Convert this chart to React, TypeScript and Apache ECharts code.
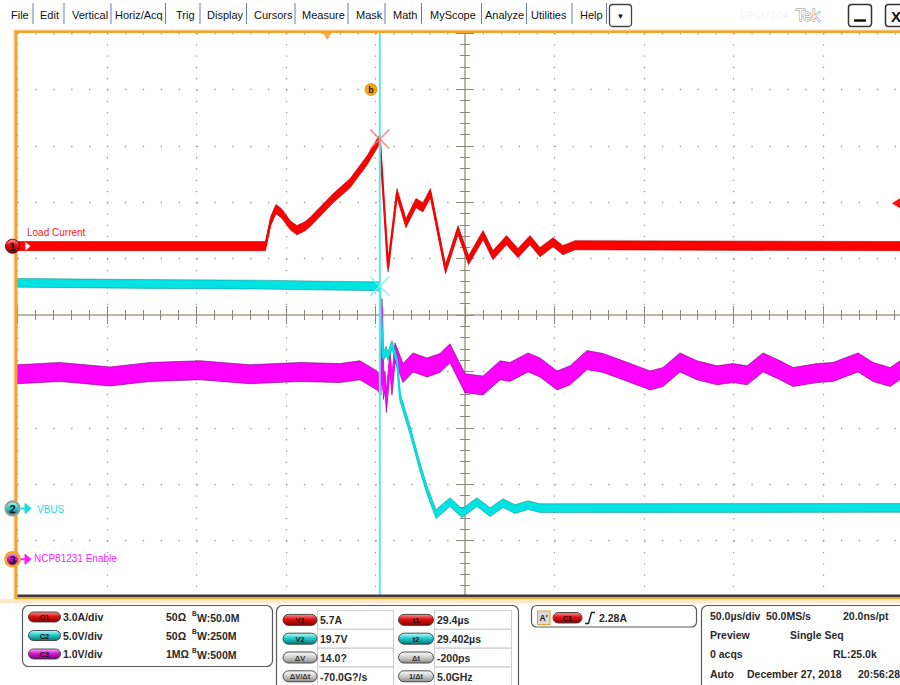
import React, { useEffect, useRef } from "react";
import * as echarts from "echarts";

// Timebase: 50 µs/div, trigger at t = 0 (µs)
const TIME_MIN = -173;
const TIME_MAX = 327;

// Vertical setup per channel: units per division and ground offset (divisions from centre)
const C1_PER_DIV = 3.0;
const C1_OFFSET = 1.22;
const C2_PER_DIV = 5.0;
const C2_OFFSET = -3.43;
const C3_PER_DIV = 1.0;
const C3_OFFSET = -4.33;

// Cursors and trigger
const CURSOR_T1 = 29.4;
const CURSOR_T2 = 29.402;
const CURSOR_V1 = 5.7;
const CURSOR_V2 = 19.7;
const TRIGGER_T = 0;
const TRIGGER_LEVEL = 2.28;

// C1 – Load Current [µs, A]
const loadCurrent = [
  [-173, 0], [-34.5, 0], [-31.5, 1.35], [-28.6, 1.97], [-25.5, 1.75], [-20.5, 1.1],
  [-16.9, 0.85], [-12.5, 1.05], [-9.6, 1.28], [3.3, 2.55], [12.8, 3.35], [22.3, 4.57],
  [29.4, 5.7], [34.0, -1.12], [39.0, 2.82], [44.0, 1.22], [49.6, 2.29], [53.5, 2.07],
  [57.7, 2.82], [66.1, -1.22], [73.1, 0.85], [79.0, -0.74], [87.1, 0.59], [92.6, -0.48],
  [100.2, 0.32], [106.6, -0.37], [113.3, 0.32], [118.9, -0.32], [126.2, 0.21],
  [131.7, -0.21], [138.5, 0.05], [327, 0],
];

// C2 – VBUS [µs, V]
const vbus = [
  [-173, 20.0], [-100, 19.9], [-40, 19.85], [0, 19.75], [29.4, 19.7], [31.2, 13.4],
  [32.9, 14.0], [34.0, 13.5], [36.2, 14.5], [39.0, 13.1], [40.7, 9.87], [46.3, 6.94],
  [51.9, 3.66], [55.8, 1.62], [60.8, -0.5], [68.6, 0.56], [75.3, -0.42], [83.7, 0.56],
  [91.0, -0.33], [98.2, 0.47], [104.9, -0.06], [112.2, 0.29], [118.9, 0.03], [327, 0.05],
];

// C3 – NCP81231 Enable [µs, V]
const enableSignal = [
  [-173, 3.28], [-149.3, 3.32], [-121.3, 3.24], [-99, 3.32], [-71, 3.35], [-43.1, 3.28],
  [-15.2, 3.32], [7.2, 3.3], [18.3, 3.35], [27.8, 3.17], [30.1, 3.08], [30.6, 4.45],
  [31.4, 3.0], [32.3, 3.17], [33.1, 2.77], [35.1, 3.53], [36.2, 3.08], [37.9, 3.67],
  [42.4, 3.3], [47.9, 3.49], [55.8, 3.4], [63.0, 3.48], [68.6, 3.65], [77.0, 3.12],
  [87.1, 3.08], [96.6, 3.35], [102.1, 3.32], [112.2, 3.49], [118.9, 3.4], [128.4, 3.17],
  [135.7, 3.26], [145.2, 3.53], [154.1, 3.48], [165.3, 3.35], [180.4, 3.17], [187.6, 3.23],
  [197.1, 3.49], [206.6, 3.35], [217.8, 3.26], [226.7, 3.3], [234.6, 3.26], [243.5, 3.49],
  [253.0, 3.35], [260.3, 3.23], [273.6, 3.3], [282.6, 3.32], [296.6, 3.49], [305.0, 3.32],
  [314.5, 3.23], [320.1, 3.35], [327, 3.32],
];

// Readout texts
const CHANNEL_SETTINGS = [
  { badge: "C1", kind: "red", scale: "3.0A/div", term: "50Ω", bw: "W:50.0M" },
  { badge: "C2", kind: "cyan", scale: "5.0V/div", term: "50Ω", bw: "W:250M" },
  { badge: "C3", kind: "magenta", scale: "1.0V/div", term: "1MΩ", bw: "W:500M" },
];
const CURSOR_LEFT = [
  { badge: "V1", kind: "red", value: `${CURSOR_V1.toFixed(1)}A` },
  { badge: "V2", kind: "cyan", value: `${CURSOR_V2.toFixed(1)}V` },
  { badge: "ΔV", kind: "gray", value: `${(CURSOR_V2 - CURSOR_V1).toFixed(1)}?` },
  { badge: "ΔV/Δt", kind: "gray", value: "-70.0G?/s" },
];
const CURSOR_RIGHT = [
  { badge: "t1", kind: "red", value: `${CURSOR_T1}µs` },
  { badge: "t2", kind: "cyan", value: `${CURSOR_T2}µs` },
  { badge: "Δt", kind: "gray", value: "-200ps" },
  { badge: "1/Δt", kind: "gray", value: "5.0GHz" },
];
const MENU_ITEMS = ["File", "Edit", "Vertical", "Horiz/Acq", "Trig", "Display", "Cursors", "Measure", "Mask", "Math", "MyScope", "Analyze", "Utilities", "Help"];
const MENU_X = [11, 40, 72, 115, 176, 207, 254, 302, 356, 393, 430, 485, 531, 580];
const MENU_SEP_X = [33, 64, 111, 165.5, 200, 246.5, 295, 348, 385, 421.5, 481.5, 526.5, 572, 606.5];

const SANS = '"Liberation Sans", Arial, sans-serif';
const MENU_FONT = `11px ${SANS}`;
const PANEL_FONT = `bold 10.5px ${SANS}`;
const GRID_TICK = "#8e887c";
const GRID_DOT = "#a39d90";
const GRID_CENTER = "#b9b1a2";
const ORANGE = "#f6a42c";

const TRACE_STYLE = {
  c1: { fill: "#ff0000", edge: "rgba(150,0,0,0.55)", half: 4.6 },
  c2: { fill: "#00e3e3", edge: "rgba(0,120,120,0.45)", half: 4.4 },
  c3: { fill: "#ff00ff", edge: "rgba(120,0,120,0.6)", half: 9.5 },
};

const PILL_FILLS: Record<string, string[]> = {
  red: ["#ff9090", "#e01010", "#860000"],
  cyan: ["#c0ffff", "#24cdcd", "#087676"],
  magenta: ["#ffa8ff", "#d21ad2", "#760076"],
  gray: ["#fbfbfb", "#d2d2d2", "#8c8c8c"],
};

function channelRange(perDiv: number, offset: number) {
  return { min: (-5 - offset) * perDiv, max: (5 - offset) * perDiv };
}

function traceSeries(name: string, points: number[][], yAxisIndex: number, st: any, z: number) {
  return {
    type: "custom",
    name,
    xAxisIndex: 4,
    yAxisIndex,
    z,
    silent: true,
    data: [points[0]],
    renderItem: (_params: any, api: any) => {
      const pts = points.map((p) => api.coord(p));
      const upper = pts.map((p: number[]) => [p[0], p[1] - st.half]);
      const lower = pts.map((p: number[]) => [p[0], p[1] + st.half]).reverse();
      return {
        type: "group",
        children: [
          { type: "polygon", shape: { points: upper.concat(lower) }, style: { fill: st.fill, stroke: st.edge, lineWidth: 1 } },
          { type: "polyline", shape: { points: pts }, style: { fill: null, stroke: st.fill, lineWidth: 2.2, lineJoin: "round" } },
        ],
      };
    },
  };
}

const X_SYMBOL = "path://M0,0.9L0.9,0L8,7.1L15.1,0L16,0.9L8.9,8L16,15.1L15.1,16L8,8.9L0.9,16L0,15.1L7.1,8Z";

function buildOption() {
  const divAxis = {
    type: "value",
    min: -5,
    max: 5,
    interval: 1,
    axisLabel: { show: false },
    splitLine: { show: false },
    axisLine: { show: false },
    axisTick: { show: false },
    minorTick: { show: false },
  };
  const edgeTicks = {
    axisTick: { show: true, inside: true, length: 9, lineStyle: { color: GRID_TICK, width: 1 } },
    minorTick: { show: true, splitNumber: 5, length: 5, lineStyle: { color: GRID_TICK, width: 1 } },
  };
  const centreLine = (inside: boolean) => ({
    axisLine: { show: true, onZero: true, onZeroAxisIndex: 0, lineStyle: { color: GRID_CENTER, width: 1.5 } },
    axisTick: { show: true, inside, length: 4, lineStyle: { color: GRID_TICK, width: 1 } },
    minorTick: { show: true, splitNumber: 5, length: 3, lineStyle: { color: GRID_TICK, width: 1 } },
  });
  const c1 = channelRange(C1_PER_DIV, C1_OFFSET);
  const c2 = channelRange(C2_PER_DIV, C2_OFFSET);
  const c3 = channelRange(C3_PER_DIV, C3_OFFSET);

  return {
    animation: false,
    backgroundColor: "#ffffff",
    grid: { left: 17.5, top: 33, width: 895, height: 564 },
    xAxis: [
      { ...divAxis, position: "top", ...edgeTicks, splitLine: { show: true, lineStyle: { color: GRID_DOT, width: 1.3, type: [1.3, 9.98] } } },
      { ...divAxis, position: "bottom", ...edgeTicks },
      { ...divAxis, position: "bottom", ...centreLine(true) },
      { ...divAxis, position: "bottom", ...centreLine(false) },
      { type: "value", min: TIME_MIN, max: TIME_MAX, show: false },
    ],
    yAxis: [
      { ...divAxis, position: "left", ...edgeTicks, splitLine: { show: true, lineStyle: { color: GRID_DOT, width: 1.3, type: [1.3, 16.6] } } },
      { ...divAxis, position: "right", ...edgeTicks },
      { ...divAxis, position: "left", ...centreLine(true) },
      { ...divAxis, position: "left", ...centreLine(false) },
      { type: "value", ...c1, show: false },
      { type: "value", ...c2, show: false },
      { type: "value", ...c3, show: false },
    ],
    series: [
      traceSeries("NCP81231 Enable", enableSignal, 6, TRACE_STYLE.c3, 3),
      traceSeries("VBUS", vbus, 5, TRACE_STYLE.c2, 4),
      traceSeries("Load Current", loadCurrent, 4, TRACE_STYLE.c1, 5),
      {
        type: "custom",
        name: "cursor",
        xAxisIndex: 4,
        yAxisIndex: 4,
        z: 6,
        silent: true,
        data: [[CURSOR_T1, 0]],
        renderItem: (params: any, api: any) => {
          const x = api.coord([api.value(0), 0])[0];
          const cs = params.coordSys;
          return {
            type: "line",
            shape: { x1: x, y1: cs.y, x2: x, y2: cs.y + cs.height },
            style: { stroke: "#5fe3ee", lineWidth: 2 },
          };
        },
      },
      {
        type: "scatter",
        xAxisIndex: 4,
        yAxisIndex: 4,
        z: 7,
        silent: true,
        clip: false,
        symbol: X_SYMBOL,
        symbolSize: 20,
        itemStyle: { color: "#ff7070" },
        data: [[CURSOR_T1, CURSOR_V1]],
      },
      {
        type: "scatter",
        xAxisIndex: 4,
        yAxisIndex: 5,
        z: 7,
        silent: true,
        clip: false,
        symbol: X_SYMBOL,
        symbolSize: 20,
        itemStyle: { color: "#7cf0f0" },
        data: [[CURSOR_T2, CURSOR_V2]],
      },
      {
        type: "scatter",
        xAxisIndex: 4,
        yAxisIndex: 4,
        z: 8,
        silent: true,
        clip: false,
        symbol: "triangle",
        symbolRotate: 180,
        symbolSize: [10, 8],
        symbolOffset: [0, 3],
        itemStyle: { color: "#f39a1c" },
        data: [[TRIGGER_T, c1.max]],
      },
    ],
  };
}

function gradient(kind: string) {
  const [a, b, c] = PILL_FILLS[kind];
  return new echarts.graphic.LinearGradient(0, 0, 0, 1, [
    { offset: 0, color: a },
    { offset: 0.45, color: b },
    { offset: 1, color: c },
  ]);
}

function txt(x: number, y: number, text: string, font = PANEL_FONT, fill = "#2a2a2a", align = "left", z = 6) {
  return { type: "text", x, y, z, silent: true, style: { text, font, fill, align, verticalAlign: "middle" } };
}

function pill(x: number, y: number, w: number, h: number, kind: string, label: string) {
  return [
    { type: "rect", z: 5, silent: true, shape: { x, y, width: w, height: h, r: h / 2 }, style: { fill: gradient(kind), stroke: "#3c3c3c", lineWidth: 0.9 } },
    txt(x + w / 2, y + h / 2 + 0.5, label, `bold 7.5px ${SANS}`, kind === "gray" ? "#333" : "#2a0808", "center", 6),
  ];
}

function groundMarker(cx: number, cy: number, digit: string, kind: string, ring: string, ringWidth: number, arrow: string, arrowHollow: boolean) {
  const head = [[25, cy - 5], [31, cy], [25, cy + 5]];
  return [
    {
      type: "circle", z: 20, silent: true,
      shape: { cx, cy, r: 7 },
      style: { fill: gradient(kind), stroke: ring, lineWidth: ringWidth },
    },
    txt(cx, cy + 0.5, digit, `bold 11px ${SANS}`, "#111", "center", 21),
    { type: "line", z: 20, silent: true, shape: { x1: 20.5, y1: cy, x2: 26, y2: cy }, style: { stroke: arrow, lineWidth: arrowHollow ? 1.2 : 2 } },
    { type: "polygon", z: 20, silent: true, shape: { points: head }, style: { fill: arrowHollow ? "#ffffff" : arrow, stroke: arrow, lineWidth: 1 } },
  ];
}

function buildGraphics(chart: any) {
  const g: any[] = [];

  // Menu bar
  MENU_ITEMS.forEach((item, i) => g.push(txt(MENU_X[i], 15, item, MENU_FONT, "#111", "left", 30)));
  MENU_SEP_X.forEach((x) =>
    g.push({ type: "line", z: 30, silent: true, shape: { x1: x, y1: 3, x2: x, y2: 24 }, style: { stroke: "#6b7ea6", lineWidth: 1 } })
  );
  g.push({ type: "rect", z: 30, silent: true, shape: { x: 609.5, y: 4.5, width: 22, height: 22, r: 3 }, style: { fill: "#fff", stroke: "#444", lineWidth: 1.3 } });
  g.push(txt(620.5, 16, "▼", `8px ${SANS}`, "#111", "center", 31));
  g.push(txt(740, 15, "DPO7104", `11px ${SANS}`, "#f4f4f4", "left", 30));
  g.push({
    type: "text", x: 796, y: 16, z: 30, silent: true,
    style: { text: "Tek", font: `15px "DejaVu Sans", sans-serif`, fill: "#ffffff", stroke: "#8c8c8c", lineWidth: 1, verticalAlign: "middle" },
  });
  g.push({ type: "rect", z: 30, silent: true, shape: { x: 848.5, y: 4.5, width: 23, height: 22, r: 3 }, style: { fill: "#fff", stroke: "#333", lineWidth: 1.5 } });
  g.push({ type: "line", z: 31, silent: true, shape: { x1: 854, y1: 20.5, x2: 866, y2: 20.5 }, style: { stroke: "#111", lineWidth: 2.5 } });
  g.push({ type: "rect", z: 30, silent: true, shape: { x: 885.5, y: 4.5, width: 23, height: 22, r: 3 }, style: { fill: "#fff", stroke: "#333", lineWidth: 1.5 } });
  g.push(txt(896, 16, "X", `bold 15px ${SANS}`, "#111", "center", 31));

  // Graticule frame
  g.push({ type: "rect", z: 12, silent: true, shape: { x: 13.5, y: 29.5, width: 1.2, height: 570 }, style: { fill: "#fbd495" } });
  g.push({ type: "rect", z: 12, silent: true, shape: { x: 14.5, y: 30.5, width: 3, height: 568 }, style: { fill: ORANGE } });
  g.push({ type: "rect", z: 12, silent: true, shape: { x: 13.5, y: 29.5, width: 900, height: 1.2 }, style: { fill: "#fbd495" } });
  g.push({ type: "rect", z: 12, silent: true, shape: { x: 14.5, y: 30.5, width: 900, height: 2.6 }, style: { fill: ORANGE } });
  g.push({ type: "rect", z: 12, silent: true, shape: { x: 17.5, y: 594.5, width: 900, height: 2.5 }, style: { fill: "#3a3a3a" } });
  g.push({ type: "rect", z: 12, silent: true, shape: { x: 14.5, y: 597, width: 900, height: 2.2 }, style: { fill: ORANGE } });
  g.push({ type: "rect", z: 12, silent: true, shape: { x: 0, y: 599.2, width: 920, height: 4 }, style: { fill: "#fde8c8" } });

  // Ground markers and channel labels
  const p1 = chart.convertToPixel({ xAxisIndex: 4, yAxisIndex: 4 }, [TIME_MIN, 0]);
  const p2 = chart.convertToPixel({ xAxisIndex: 4, yAxisIndex: 5 }, [TIME_MIN, 0]);
  const p3 = chart.convertToPixel({ xAxisIndex: 4, yAxisIndex: 6 }, [TIME_MIN, 0]);
  g.push(...groundMarker(12.5, p1[1], "1", "red", "#7a0000", 1, "#ff2020", true));
  g.push(...groundMarker(12.5, p2[1], "2", "cyan", "#9c9c9c", 2, "#18dede", false));
  g.push(...groundMarker(12.5, p3[1], "3", "magenta", "#f5a623", 2.5, "#ff1aff", false));
  g.push(txt(27, p1[1] - 14, "Load Current", `10px ${SANS}`, "#ff1a1a", "left", 20));
  g.push(txt(37, p2[1] + 1.5, "VBUS", `10px ${SANS}`, "#1fd8e0", "left", 20));
  g.push(txt(34, p3[1] - 0.5, "NCP81231 Enable", `10px ${SANS}`, "#ff22ff", "left", 20));

  // Trigger level marker (C1) at the right edge
  const pt = chart.convertToPixel({ xAxisIndex: 4, yAxisIndex: 4 }, [TIME_MAX, TRIGGER_LEVEL]);
  g.push({ type: "polygon", z: 20, silent: true, shape: { points: [[892, pt[1]], [900, pt[1] - 5], [900, pt[1] + 5]] }, style: { fill: "#ff1010" } });

  // Cursor "b" tag
  g.push({ type: "circle", z: 20, silent: true, shape: { cx: 371, cy: 89.5, r: 6 }, style: { fill: "#f5a416", stroke: "#c77a00", lineWidth: 0.6 } });
  g.push(txt(371, 90, "b", `bold 9px ${SANS}`, "#222", "center", 21));

  // Channel settings panel
  g.push({ type: "rect", z: 4, silent: true, shape: { x: 22.5, y: 605.5, width: 250, height: 61, r: 6 }, style: { fill: "#fff", stroke: "#5a5a5a", lineWidth: 1.2 } });
  CHANNEL_SETTINGS.forEach((c, i) => {
    const y = 617 + i * 18.5;
    g.push(...pill(28.5, y - 5, 32, 10, c.kind, c.badge));
    g.push(txt(63, y, c.scale));
    g.push(txt(166, y, c.term));
    g.push(txt(192, y - 4, "B", `bold 6.5px ${SANS}`));
    g.push(txt(197, y + 0.5, c.bw));
  });

  // Cursor readout panel
  g.push({ type: "rect", z: 4, silent: true, shape: { x: 276.5, y: 605.5, width: 242, height: 95, r: 6 }, style: { fill: "#fff", stroke: "#5a5a5a", lineWidth: 1.2 } });
  CURSOR_LEFT.forEach((c, i) => {
    const y0 = 610.5 + i * 18.8;
    g.push({ type: "rect", z: 5, silent: true, shape: { x: 317.5, y: y0, width: 76, height: 18.8 }, style: { fill: "none", stroke: "#cfcfcf", lineWidth: 1 } });
    g.push(...pill(283, y0 + 3.9, 34, 11, c.kind, c.badge));
    g.push(txt(320, y0 + 9.6, c.value));
  });
  CURSOR_RIGHT.forEach((c, i) => {
    const y0 = 610.5 + i * 18.8;
    g.push({ type: "rect", z: 5, silent: true, shape: { x: 434.5, y: y0, width: 77, height: 18.8 }, style: { fill: "none", stroke: "#cfcfcf", lineWidth: 1 } });
    g.push(...pill(398.5, y0 + 3.9, 35, 11, c.kind, c.badge));
    g.push(txt(437, y0 + 9.6, c.value));
  });

  // Trigger panel
  g.push({ type: "rect", z: 4, silent: true, shape: { x: 531.5, y: 605.5, width: 165, height: 21.5, r: 5 }, style: { fill: "#fff", stroke: "#5a5a5a", lineWidth: 1.2 } });
  g.push({ type: "rect", z: 5, silent: true, shape: { x: 537.5, y: 611, width: 12.5, height: 13.5 }, style: { fill: "#dcdcdc", stroke: "#f2a031", lineWidth: 1.2 } });
  g.push(txt(543.7, 618, "A'", `bold 8.5px ${SANS}`, "#222", "center", 6));
  g.push(...pill(553, 612.5, 29, 10.5, "red", "C1"));
  g.push({ type: "polyline", z: 6, silent: true, shape: { points: [[585, 623.5], [588.5, 623.5], [591.5, 612.5], [595, 612.5]] }, style: { fill: null, stroke: "#222", lineWidth: 1.4 } });
  g.push(txt(599, 618, `${TRIGGER_LEVEL.toFixed(2)}A`));

  // Acquisition panel
  g.push({ type: "rect", z: 4, silent: true, shape: { x: 701.5, y: 605.5, width: 230, height: 95, r: 6 }, style: { fill: "#fff", stroke: "#5a5a5a", lineWidth: 1.2 } });
  g.push(txt(710, 615.5, "50.0µs/div"));
  g.push(txt(766, 615.5, "50.0MS/s"));
  g.push(txt(843, 615.5, "20.0ns/pt"));
  g.push(txt(710, 635, "Preview"));
  g.push(txt(790, 635, "Single Seq"));
  g.push(txt(710, 654, "0 acqs"));
  g.push(txt(833, 654, "RL:25.0k"));
  g.push(txt(710, 673.5, "Auto"));
  g.push(txt(747, 673.5, "December 27, 2018"));
  g.push(txt(858, 673.5, "20:56:28"));

  return g;
}

export default function App() {
  const ref = useRef<HTMLDivElement>(null);
  useEffect(() => {
    if (!ref.current) return;
    const chart = echarts.init(ref.current, null, { renderer: "svg" });
    chart.setOption(buildOption() as any);
    chart.setOption({ graphic: buildGraphics(chart) } as any);
    return () => chart.dispose();
  }, []);
  return (
    <div style={{ position: "fixed", left: 0, top: 0, width: 900, height: 685, overflow: "hidden", background: "#fff" }}>
      <div ref={ref} style={{ width: 915, height: 685 }} />
    </div>
  );
}
